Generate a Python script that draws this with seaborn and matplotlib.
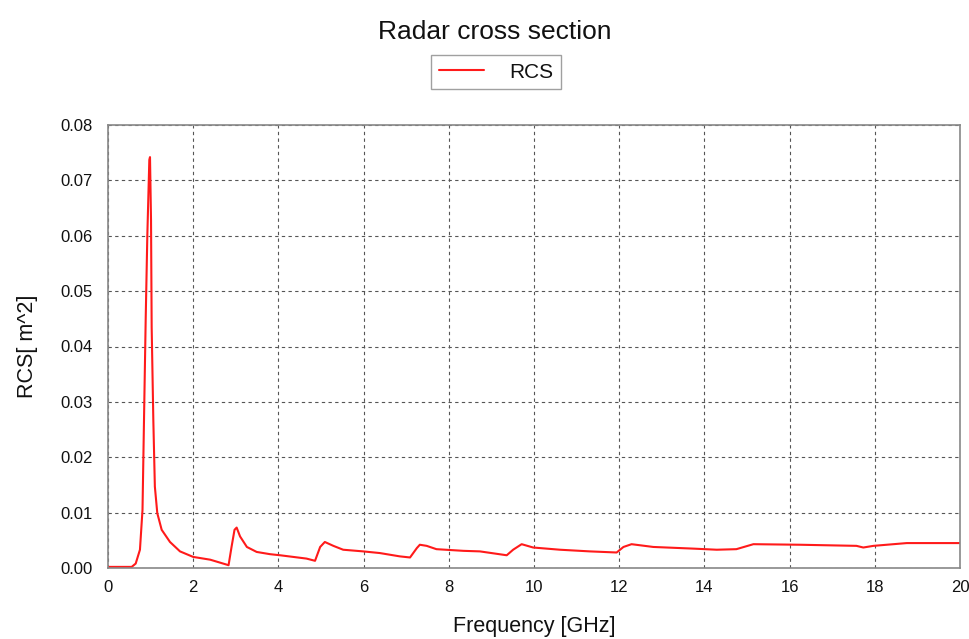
import matplotlib
matplotlib.use("Agg")
import matplotlib.pyplot as plt
import seaborn as sns
import pandas as pd

freq_ghz = [0.0, 0.30, 0.556, 0.65, 0.75, 0.81, 0.845, 0.885, 0.923, 0.97, 0.986,
            1.01, 1.025, 1.064, 1.10, 1.157, 1.26, 1.455, 1.69, 2.0, 2.4, 2.79, 2.83,
            2.90, 2.97, 3.02, 3.10, 3.26, 3.49, 3.80, 4.04, 4.66, 4.86, 4.98, 5.09,
            5.29, 5.52, 5.99, 6.38, 6.85, 7.09, 7.25, 7.32, 7.48, 7.71, 8.34, 8.73,
            9.36, 9.51, 9.71, 9.98, 10.61, 11.31, 11.94, 12.10, 12.29, 12.80, 13.74,
            14.29, 14.75, 15.15, 16.24, 17.57, 17.73, 17.97, 18.75, 20.0]
rcs_m2 = [0.0002, 0.0002, 0.0002, 0.0008, 0.0033, 0.0105, 0.0267, 0.045, 0.060, 0.0737, 0.0742,
          0.0628, 0.0435, 0.0267, 0.0147, 0.0099, 0.0069, 0.0047, 0.0030, 0.0020, 0.0015, 0.0006, 0.0005,
          0.0038, 0.0069, 0.0073, 0.0057, 0.0038, 0.0029, 0.0025, 0.0023, 0.0017, 0.0013, 0.0038, 0.0047,
          0.0040, 0.0033, 0.0030, 0.0027, 0.0021, 0.0019, 0.0036, 0.0042, 0.0040, 0.0034, 0.0031, 0.0030,
          0.0023, 0.0033, 0.0043, 0.0037, 0.0033, 0.0030, 0.0028, 0.0038, 0.0043, 0.0038, 0.0035,
          0.0033, 0.0034, 0.0043, 0.0042, 0.0040, 0.0037, 0.0040, 0.0045, 0.0045]
series_name = "RCS"
x_ticks = [0, 2, 4, 6, 8, 10, 12, 14, 16, 18, 20]
y_ticks = [0.00, 0.01, 0.02, 0.03, 0.04, 0.05, 0.06, 0.07, 0.08]

sns.set_style("white")
plt.rcParams['font.family'] = ['Liberation Sans', 'DejaVu Sans']
text_color = "#111111"

df = pd.DataFrame({"Frequency": freq_ghz, "RCS": rcs_m2, "series": series_name})

fig = plt.figure(figsize=(9.69, 6.39), dpi=100)
ax = fig.add_axes([108/969, 1-568/639, (960-108)/969, (568-125)/639])

sns.lineplot(data=df, x="Frequency", y="RCS", hue="series", palette=["#ff1a1a"],
             linewidth=1.5, ax=ax, legend=False)

ax.set_xlim(0, 20)
ax.set_ylim(0, 0.08)
ax.set_xticks(x_ticks)
ax.set_yticks(y_ticks)
ax.set_xticklabels([str(t) for t in x_ticks], fontsize=12, color=text_color)
ax.set_yticklabels([f"{t:.2f}" for t in y_ticks], fontsize=12, color=text_color)
ax.tick_params(axis="x", length=0, pad=8.5)
ax.tick_params(axis="y", length=0, pad=11)
ax.grid(True, color="#555555", linestyle=(0, (3, 3)), linewidth=0.8)
for s in ax.spines.values():
    s.set_color("#888888")
    s.set_linewidth(1.2)

ax.set_xlabel("Frequency [GHz]", fontsize=15.5, labelpad=15, color=text_color)
ax.set_ylabel("RCS[ m^2]", fontsize=15.5, labelpad=16, color=text_color)

fig.text(495/969, 1-32/639, "Radar cross section", ha="center", va="center",
         fontsize=19, color=text_color)
handle = plt.Line2D([], [], color="#ff1a1a", linewidth=1.5)
leg = fig.legend([handle], [series_name], loc="center", bbox_to_anchor=(496/969, 1-72/639),
                 fontsize=15, frameon=True, fancybox=False, edgecolor="#888888",
                 handlelength=2.2, borderpad=0.35, handletextpad=1.2)
for t in leg.get_texts():
    t.set_color(text_color)

fig.savefig("out.png", dpi=100, facecolor="white")
